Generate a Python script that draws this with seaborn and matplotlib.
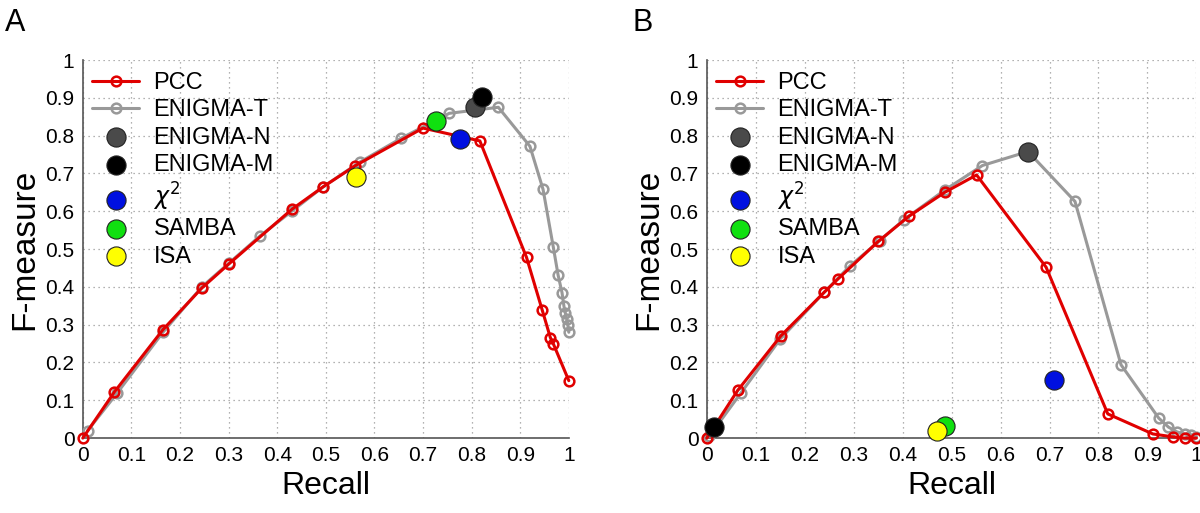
import matplotlib
matplotlib.use("Agg")
import matplotlib.pyplot as plt
import seaborn as sns

# panel A
pcc_a_recall = [0.0, 0.065, 0.165, 0.245, 0.30, 0.43, 0.495, 0.56, 0.70, 0.817, 0.913, 0.945, 0.962, 0.968, 1.0]
pcc_a_f = [0.0, 0.122, 0.287, 0.397, 0.46, 0.605, 0.665, 0.72, 0.82, 0.786, 0.478, 0.34, 0.266, 0.25, 0.152]
enigt_a_recall = [0.01, 0.07, 0.165, 0.245, 0.30, 0.365, 0.43, 0.495, 0.57, 0.655, 0.754, 0.855, 0.92, 0.947,
                  0.968, 0.978, 0.986, 0.990, 0.993, 0.996, 0.998, 1.0]
enigt_a_f = [0.02, 0.118, 0.28, 0.40, 0.462, 0.535, 0.60, 0.665, 0.73, 0.793, 0.859, 0.875, 0.772, 0.658,
             0.506, 0.431, 0.385, 0.349, 0.33, 0.315, 0.30, 0.28]
points_a = {"ENIGMA-N": (0.808, 0.876), "ENIGMA-M": (0.822, 0.901), r"$\chi^2$": (0.777, 0.792),
            "SAMBA": (0.726, 0.839), "ISA": (0.563, 0.691)}

# panel B
pcc_b_recall = [0.0, 0.063, 0.151, 0.24, 0.268, 0.35, 0.413, 0.486, 0.551, 0.693, 0.819, 0.911, 0.953, 0.976, 1.0]
pcc_b_f = [0.0, 0.126, 0.27, 0.386, 0.421, 0.52, 0.587, 0.65, 0.696, 0.452, 0.064, 0.011, 0.003, 0.0, 0.0]
enigt_b_recall = [0.005, 0.07, 0.15, 0.24, 0.293, 0.353, 0.402, 0.486, 0.563, 0.656, 0.752, 0.846, 0.923,
                  0.943, 0.961, 0.976, 0.988, 1.0]
enigt_b_f = [0.005, 0.12, 0.262, 0.386, 0.456, 0.522, 0.577, 0.656, 0.721, 0.758, 0.626, 0.194, 0.053,
             0.029, 0.016, 0.011, 0.009, 0.003]
points_b = {"ENIGMA-N": (0.656, 0.758), "ENIGMA-M": (0.014, 0.029), r"$\chi^2$": (0.710, 0.154),
            "SAMBA": (0.486, 0.031), "ISA": (0.471, 0.018)}

point_colors = {"ENIGMA-N": "#4a4a4a", "ENIGMA-M": "#000000", r"$\chi^2$": "#0010e0",
                "SAMBA": "#10e010", "ISA": "#ffff00"}
ticks = [i / 10 for i in range(11)]
tick_labels = ["0"] + [f"0.{i}" for i in range(1, 10)] + ["1"]

sns.set_style("white")
plt.rcParams["font.family"] = ["Liberation Sans", "DejaVu Sans"]
plt.rcParams["text.color"] = "black"
plt.rcParams["axes.labelcolor"] = "black"

fig = plt.figure(figsize=(12, 5.13), dpi=100)
ax_a = fig.add_axes([0.069, 0.146, 0.405, 0.737])
ax_b = fig.add_axes([0.589, 0.146, 0.408, 0.737])


def draw(ax, pr, pf, er, ef, pts):
    sns.lineplot(x=pr, y=pf, ax=ax, sort=False, estimator=None, color="#e00000", lw=2.2,
                 marker="o", markersize=7, markerfacecolor="none", markeredgecolor="#e00000",
                 markeredgewidth=1.8, label="PCC", zorder=4, clip_on=False)
    sns.lineplot(x=er, y=ef, ax=ax, sort=False, estimator=None, color="#999999", lw=2.2,
                 marker="o", markersize=7, markerfacecolor="none", markeredgecolor="#999999",
                 markeredgewidth=1.8, label="ENIGMA-T", zorder=3, clip_on=False)
    for name, (r, f) in pts.items():
        sns.scatterplot(x=[r], y=[f], ax=ax, s=190, color=point_colors[name], edgecolor="#222222",
                        linewidth=0.8, label=name, zorder=5, clip_on=False)
    ax.set_xlim(0, 1)
    ax.set_ylim(0, 1)
    ax.set_xticks(ticks)
    ax.set_yticks(ticks)
    ax.set_xticklabels(tick_labels)
    ax.set_yticklabels(tick_labels)
    ax.tick_params(direction="in", length=5, width=1, labelsize=15, color="#555555",
                   labelcolor="black", pad=6)
    ax.grid(True, linestyle=(0, (1, 3)), color="#999999", lw=0.9)
    for s in ["top", "right"]:
        ax.spines[s].set_visible(False)
    for s in ["left", "bottom"]:
        ax.spines[s].set_color("#555555")
        ax.spines[s].set_linewidth(1.2)
    ax.set_xlabel("Recall", fontsize=23)
    ax.set_ylabel("F-measure", fontsize=24)
    ax.legend(loc="upper left", bbox_to_anchor=(-0.01, 1.005), frameon=False, fontsize=17,
              handlelength=2.0, labelspacing=0.22, handletextpad=0.6, borderaxespad=0.2)


draw(ax_a, pcc_a_recall, pcc_a_f, enigt_a_recall, enigt_a_f, points_a)
draw(ax_b, pcc_b_recall, pcc_b_f, enigt_b_recall, enigt_b_f, points_b)

fig.text(0.004, 0.955, "A", fontsize=22, va="center")
fig.text(0.527, 0.955, "B", fontsize=22, va="center")

fig.savefig("out.png", dpi=100)
